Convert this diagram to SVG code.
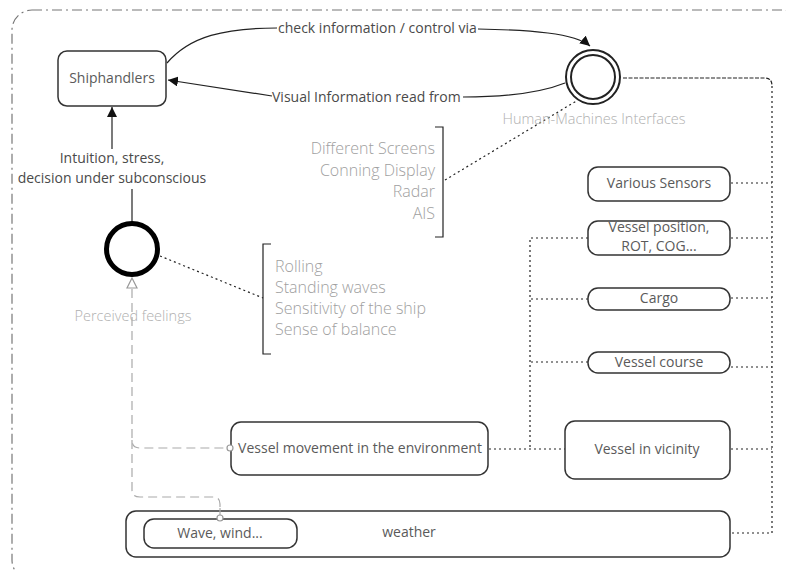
<svg xmlns="http://www.w3.org/2000/svg" width="786" height="571" viewBox="0 0 786 571">
<defs>
<style>
.box{fill:#fff;stroke:#333;stroke-width:1.5}
.nt{font-family:"Open Sans","Liberation Sans",sans-serif;font-size:14px;fill:#5a5a5a;text-anchor:middle}
.lbl{font-family:"Open Sans","Liberation Sans",sans-serif;font-size:14px;fill:#4a4a4a}
.lt{font-family:"Open Sans","Liberation Sans",sans-serif;font-size:16px;fill:#a0a0a0;font-weight:300}
.sm{font-family:"Open Sans","Liberation Sans",sans-serif;font-size:14.5px;fill:#b0b0b0;text-anchor:middle;font-weight:300}
.dot{fill:none;stroke:#222;stroke-width:1.2;stroke-dasharray:2 3}
.solid{fill:none;stroke:#222;stroke-width:1.2}
.gd{fill:none;stroke:#aaa;stroke-width:1.2;stroke-dasharray:9 5}
</style>
<marker id="ah" viewBox="0 0 10 10" refX="10" refY="5" markerWidth="10" markerHeight="10" markerUnits="userSpaceOnUse" orient="auto">
<path d="M0,0 L10,5 L0,10 z" fill="#111"/>
</marker>
</defs>
<rect x="12" y="10" width="790" height="570" rx="20" fill="none" stroke="#777" stroke-width="1.2" stroke-dasharray="10 4 2 4"/>

<g id="connectors">
<path class="solid" d="M167,63 C190,36 225,28 277,28"/>
<path class="solid" d="M478,29 C530,30 575,33 590,46" marker-end="url(#ah)"/>
<path class="solid" d="M565,83 C540,93 505,97 463,97"/>
<path class="solid" d="M272,96 L168,80" marker-end="url(#ah)"/>
<path class="solid" d="M112,149 L112,107" marker-end="url(#ah)"/>
<path class="solid" d="M132,189 L132,222"/>
<path class="gd" d="M132,289 L132,440 Q132,448 140,448 L227,448"/>
<path class="gd" d="M132,440 L132,490 Q132,497 140,497 L213,497 Q220,497 220,504 L220,515"/>
<polygon points="132,278 127,288 137,288" fill="#fff" stroke="#999" stroke-width="1.2"/>
<path d="M623,78 L765,78 Q772,78 772,86" fill="none" stroke="#222" stroke-width="1.2" stroke-dasharray="4 1.5"/>
<path class="dot" d="M772,86 L772,533 L731,533"/>
<path class="dot" d="M731,183 L772,183 M731,238 L772,238 M731,298 L772,298 M731,367 L772,367 M731,449 L772,449"/>
<path class="dot" d="M588,238 L530,238 L530,449 M588,299 L530,299 M588,362 L530,362 M489,449 L565,449"/>
<path class="dot" d="M445,180 L578,100"/>
<path class="dot" d="M160,256 L263,298"/>
</g>

<g id="label-check">
<text class="lbl" x="278" y="33">check information / control via</text>
</g>
<g id="label-visual">
<text class="lbl" x="272" y="102">Visual Information read from</text>
</g>
<g id="label-intuition">
<text class="lbl" x="112" y="163" text-anchor="middle">Intuition, stress,</text>
<text class="lbl" x="112" y="183" text-anchor="middle">decision under subconscious</text>
</g>

<g id="shiphandlers">
<rect class="box" x="58" y="51" width="108" height="55" rx="9"/>
<text class="nt" x="112" y="83">Shiphandlers</text>
</g>

<g id="hmi">
<circle cx="593" cy="77" r="27" fill="#fff" stroke="#222" stroke-width="2"/>
<circle cx="593" cy="77" r="22" fill="#fff" stroke="#222" stroke-width="2"/>
<text class="sm" x="594" y="124">Human-Machines Interfaces</text>
</g>

<g id="screens">
<path class="solid" d="M435,127 L443,127 L443,237 L435,237"/>
<text class="lt" x="435" y="154" text-anchor="end">Different Screens</text>
<text class="lt" x="435" y="176" text-anchor="end">Conning Display</text>
<text class="lt" x="435" y="197" text-anchor="end">Radar</text>
<text class="lt" x="435" y="219" text-anchor="end">AIS</text>
</g>

<g id="perceived">
<circle cx="132" cy="249" r="25.5" fill="#fff" stroke="#000" stroke-width="5"/>
<text class="sm" x="133" y="321">Perceived feelings</text>
</g>

<g id="feelings">
<path class="solid" d="M271,244 L263,244 L263,354 L271,354"/>
<text class="lt" x="275" y="272">Rolling</text>
<text class="lt" x="275" y="293">Standing waves</text>
<text class="lt" x="275" y="314">Sensitivity of the ship</text>
<text class="lt" x="275" y="335">Sense of balance</text>
</g>

<g id="sensors">
<rect class="box" x="588" y="167" width="142" height="34" rx="10"/>
<text class="nt" x="659" y="188">Various Sensors</text>
</g>
<g id="position">
<rect class="box" x="588" y="221" width="142" height="34" rx="10"/>
<text class="nt" x="659" y="232">Vessel position,</text>
<text class="nt" x="659" y="251">ROT, COG...</text>
</g>
<g id="cargo">
<rect class="box" x="588" y="288" width="142" height="22" rx="10"/>
<text class="nt" x="659" y="303">Cargo</text>
</g>
<g id="course">
<rect class="box" x="588" y="352" width="142" height="21" rx="10"/>
<text class="nt" x="659" y="367">Vessel course</text>
</g>
<g id="movement">
<rect class="box" x="231" y="422" width="257" height="53" rx="10"/>
<text class="nt" x="360" y="453">Vessel movement in the environment</text>
</g>
<g id="vicinity">
<rect class="box" x="565" y="421" width="165" height="58" rx="10"/>
<text class="nt" x="647" y="454">Vessel in vicinity</text>
</g>
<g id="weather">
<rect class="box" x="126" y="511" width="604" height="46" rx="10"/>
<text class="nt" x="409" y="537">weather</text>
</g>
<g id="wave">
<rect class="box" x="144" y="519" width="153" height="29" rx="10"/>
<text class="nt" x="220" y="538">Wave, wind...</text>
</g>
<g id="connector-ends">
<path class="gd" d="M220,508 L220,515"/>
<circle cx="230" cy="448" r="3" fill="#fff" stroke="#999" stroke-width="1.2"/>
<circle cx="220" cy="518" r="3" fill="#fff" stroke="#999" stroke-width="1.2"/>
</g>
</svg>
